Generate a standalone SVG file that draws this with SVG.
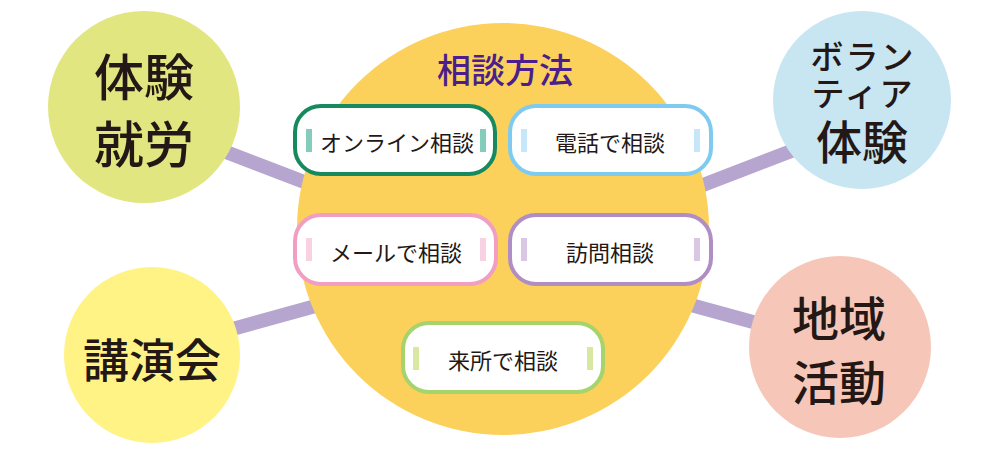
<svg xmlns="http://www.w3.org/2000/svg" width="1000" height="456" viewBox="0 0 1000 456">
<style>
.big{font-family:"Noto Sans CJK JP","Noto Sans CJK SC",sans-serif;font-weight:500;fill:#231815;text-anchor:middle;dominant-baseline:central}
.lbl{font-family:"Noto Sans CJK JP","Noto Sans CJK SC",sans-serif;font-weight:400;font-size:22px;fill:#231815;text-anchor:middle;dominant-baseline:central}
.box{fill:#fff;stroke-width:4}
.conn{stroke:#b6a5cf;stroke-width:14;fill:none}
</style>
<rect width="1000" height="456" fill="#fff"/>
<g id="connectors">
<line class="conn" x1="200" y1="142" x2="320" y2="188"/>
<line class="conn" x1="200" y1="338" x2="330" y2="302"/>
<line class="conn" x1="690" y1="190" x2="820" y2="140"/>
<line class="conn" x1="680" y1="302" x2="790" y2="332"/>
</g>
<g id="hub">
<circle cx="503" cy="229" r="206" fill="#fbd15b"/>
<text x="505" y="68" style="font-family:'Noto Sans CJK JP','Noto Sans CJK SC',sans-serif;font-weight:500;font-size:34px;fill:#4b1e8c;text-anchor:middle;dominant-baseline:central">相談方法</text>
</g>
<g id="online">
<rect class="box" x="295" y="106" width="200" height="68" rx="26" stroke="#168a5e"/>
<rect x="306" y="129" width="6" height="23" fill="#84cdbd"/>
<rect x="480" y="129" width="6" height="23" fill="#84cdbd"/>
<text class="lbl" x="397" y="141">オンライン相談</text>
</g>
<g id="phone">
<rect class="box" x="510" y="106" width="201" height="68" rx="26" stroke="#7fcbf0"/>
<rect x="521" y="129" width="6" height="23" fill="#c6e7f9"/>
<rect x="694" y="129" width="6" height="23" fill="#c6e7f9"/>
<text class="lbl" x="610" y="141">電話で相談</text>
</g>
<g id="mail">
<rect class="box" x="295" y="215" width="201" height="69" rx="26" stroke="#f19ec2"/>
<rect x="306" y="238" width="6" height="23" fill="#f8d1e3"/>
<rect x="480" y="238" width="6" height="23" fill="#f8d1e3"/>
<text class="lbl" x="396" y="251">メールで相談</text>
</g>
<g id="visit">
<rect class="box" x="510" y="215" width="201" height="69" rx="26" stroke="#b08ec4"/>
<rect x="521" y="238" width="6" height="23" fill="#d9c7e3"/>
<rect x="694" y="238" width="6" height="23" fill="#d9c7e3"/>
<text class="lbl" x="610" y="251">訪問相談</text>
</g>
<g id="office">
<rect class="box" x="403" y="323" width="200" height="69" rx="26" stroke="#a5d36c"/>
<rect x="413" y="347" width="6" height="23" fill="#d7e8a0"/>
<rect x="587" y="347" width="6" height="23" fill="#d7e8a0"/>
<text class="lbl" x="503" y="359">来所で相談</text>
</g>
<g id="work">
<circle cx="144" cy="107" r="96" fill="#e2e680"/>
<text class="big" x="144" y="74" font-size="50">体験</text>
<text class="big" x="144" y="141" font-size="50">就労</text>
</g>
<g id="lecture">
<circle cx="152" cy="355" r="88" fill="#fff385"/>
<text class="big" x="152" y="357" font-size="46">講演会</text>
</g>
<g id="volunteer">
<circle cx="862" cy="100" r="89" fill="#c7e6f1"/>
<text class="big"><tspan x="863" y="55" font-size="33" letter-spacing="2">ボラン</tspan><tspan x="863" y="92" font-size="33" letter-spacing="2">ティア</tspan><tspan x="862" y="139" font-size="46">体験</tspan></text>
</g>
<g id="community">
<circle cx="840" cy="347" r="91" fill="#f6c6b8"/>
<text class="big" x="839" y="315" font-size="47">地域</text>
<text class="big" x="839" y="379" font-size="47">活動</text>
</g>
</svg>
